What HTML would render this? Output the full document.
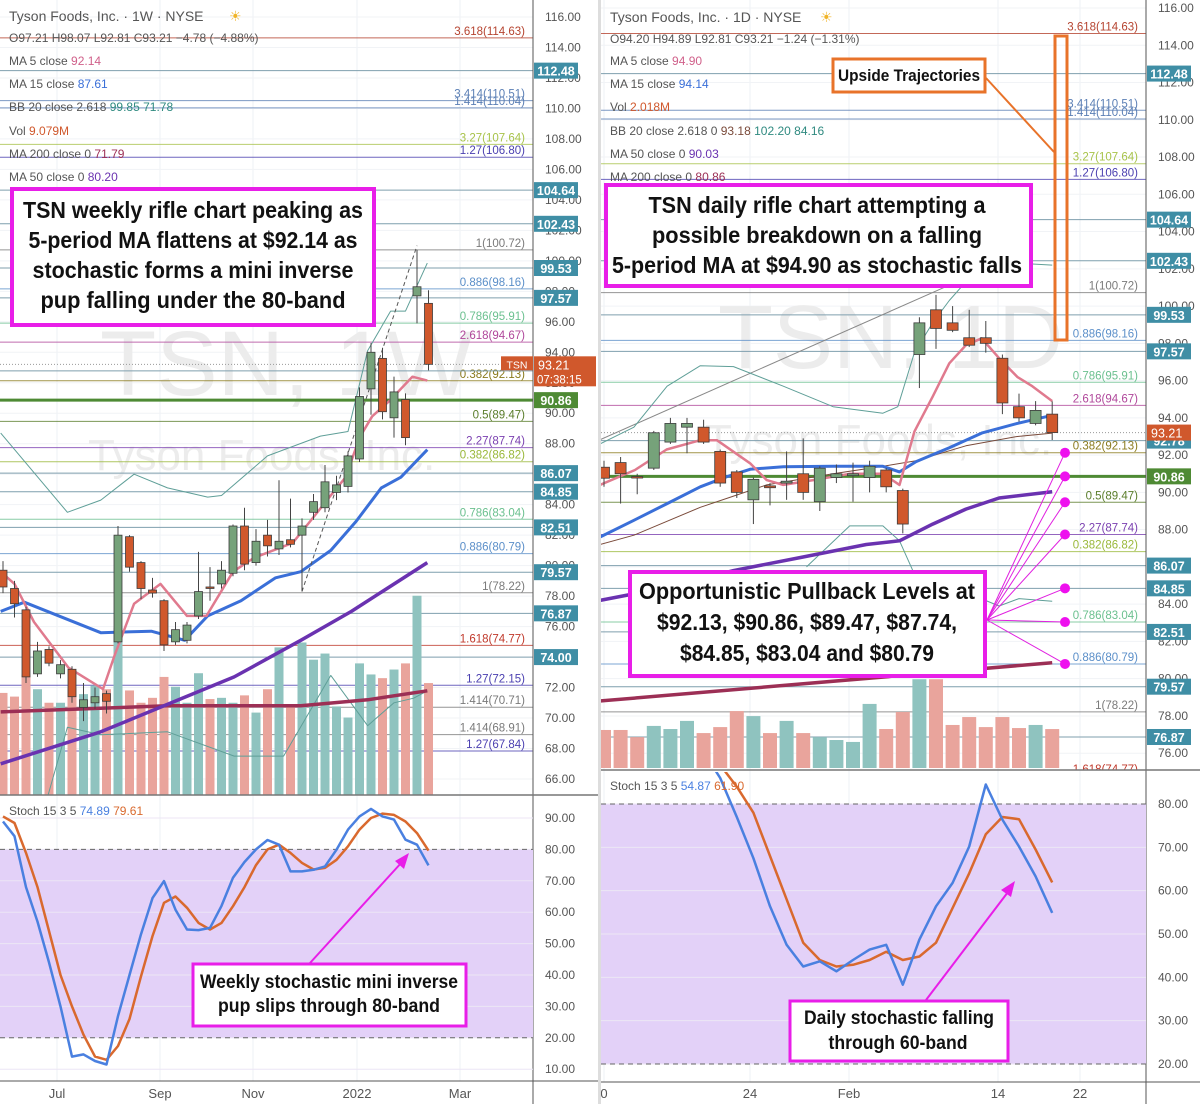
<!DOCTYPE html>
<html><head><meta charset="utf-8"><style>
html,body{margin:0;padding:0;background:#fff;}
svg{display:block;font-family:"Liberation Sans",sans-serif;}
</style></head><body>
<svg id="chart" xmlns="http://www.w3.org/2000/svg" width="1200" height="1104" viewBox="0 0 1200 1104">
<rect x="0" y="0" width="1200" height="1104" fill="#fff"/>
<defs>
<clipPath id="clipLP"><rect x="0" y="0" width="533" height="795"/></clipPath>
<clipPath id="clipLS"><rect x="0" y="797" width="533" height="283"/></clipPath>
<clipPath id="clipRP"><rect x="601" y="0" width="545" height="770"/></clipPath>
<clipPath id="clipRS"><rect x="601" y="772" width="545" height="309"/></clipPath>
</defs>
<g id="grid"></g>
<g id="wm">
<text x="100" y="395" font-size="92" fill="#ececec">TSN, 1W</text>
<text x="88" y="470" font-size="44" fill="#ececec">Tyson Foods, Inc.</text>
<text x="718" y="368" font-size="90" fill="#ececec">TSN, 1D</text>
<text x="705" y="455" font-size="44" fill="#ececec">Tyson Foods, Inc.</text>
</g>
<g id="layers"></g>
</svg>
<script>
// ===== LEFT (weekly) data =====
const lOpen=[79.7,78.5,77.1,72.9,74.5,72.9,73.2,70.7,71.0,71.6,75.0,81.9,80.2,78.4,77.7,75.0,75.1,76.7,78.6,78.8,79.5,82.6,80.2,82.0,81.1,81.7,82.0,83.5,83.8,84.8,85.2,87.0,91.6,93.6,89.7,90.9,97.7,97.21];
const lClose=[78.6,77.5,72.7,74.4,73.6,73.5,71.4,71.2,71.4,71.1,82.0,79.9,78.5,78.2,74.8,75.8,76.1,78.3,78.55,79.7,82.6,80.1,81.6,81.3,81.6,81.4,82.6,84.2,85.5,85.3,87.2,91.1,94.0,90.1,91.4,88.4,98.3,93.21];
const lHigh=[80.3,79.0,77.3,75.0,74.7,73.8,73.4,72.3,72.0,71.8,82.6,82.0,80.3,79.2,77.8,76.3,76.3,80.9,79.9,80.3,82.7,83.8,82.4,83.0,85.6,84.4,83.1,84.7,86.6,85.9,87.5,91.7,94.6,94.3,92.4,91.3,100.72,98.07];
const lLow=[78.2,76.6,72.3,72.7,73.4,72.6,71.0,69.8,70.6,70.3,74.9,79.6,77.8,77.9,74.4,74.8,74.9,76.5,77.7,78.5,79.3,79.7,80.0,80.6,80.7,81.2,78.3,83.0,83.5,84.3,84.8,86.8,89.9,89.6,88.4,87.9,95.9,92.81];
const lVol=[8.3,8.0,9.8,8.6,7.5,7.5,8.7,8.2,8.9,8.6,13.6,8.5,7.5,7.9,9.6,8.8,7.5,9.9,7.8,7.9,7.5,8.1,6.7,8.6,12.0,7.3,12.4,11.0,11.5,7.2,6.3,10.7,9.8,9.5,10.2,10.7,16.2,9.1];
const lMa5Idx=[-0.2,1,2.7,5.7,8.7,9.7,11.4,13.7,16,17.7,20,21.8,25.2,26.7,28.7,29.8,31,32.1,33.6,35.6,36.9];
const lMa5=[79.6,78.8,76.3,73.3,71.9,74.1,77.5,78.8,76.7,76.7,79.6,80.5,81.5,82.9,84.8,85.8,88.4,89.8,90.8,92.4,92.14];
const lMa15Idx=[-0.2,1.85,8.5,12.9,15.8,17.8,20.7,23.7,25.9,28.5,30.7,32.9,34.6,36.9];
const lMa15=[77.0,77.6,75.6,75.7,75.1,76.7,77.7,79.2,79.6,81.0,82.9,85.1,85.8,87.61];
const lMa50Idx=[-0.2,8.5,14,20.1,25.9,30.3,36.9];
const lMa50=[67.0,69.1,70.8,72.7,75.1,77.0,80.2];
const lMa200Idx=[-0.2,14.3,25.9,31.7,36.9];
const lMa200=[70.4,70.8,70.8,71.2,71.79];
const lBbUpIdx=[-0.2,5.6,8.5,11.4,14.3,17.8,19,23,27.6,30,31.7,33.7,35,36.9];
const lBbUp=[88.7,83.5,84.3,86.0,85.1,84.5,84.6,87.2,88.5,88.8,94.1,96.7,96.7,99.85];
const lBbLoIdx=[3,5.6,8.5,14.3,20.1,24.4,28.5,31.7,34,35.7,36.9];
const lBbLo=[62.5,69.4,68.9,69.1,67.5,67.5,72.8,69.5,71.0,71.3,71.78];
const lStochK=[88.9,84.2,68,57,44,30,14,14.7,12.6,11.5,26.9,40,53,64.5,69.9,60.8,54.5,54.3,55,62,71,76,80,83,81.5,73,73,73.5,74.6,79.9,86.3,90.5,92.9,90.5,89.5,83.1,81.5,74.89];
const lStochD=[90.5,88.4,78.9,68,54,40,30,21,14,13,17.4,26,39.6,52.4,63,65,61.4,56.6,54.5,56.6,61.9,68,75,80,81.5,78.9,75.7,73.6,74.1,76.7,81,86.3,90,91.4,91,88.9,85.2,79.61];
const lTicks=[116,114,112,110,108,106,104,102,100,98,96,94,92,90,88,86,84,82,80,78,76,74,72,70,68,66];
const lStochTicks=[90,80,70,60,50,40,30,20,10];

// ===== RIGHT (daily) data =====
const rOpen=[91.35,91.6,90.85,91.3,92.7,93.5,93.5,92.2,91.1,89.6,90.35,90.5,91.0,89.5,90.8,90.9,90.8,91.2,90.1,97.4,99.8,99.1,98.3,98.3,97.2,94.6,93.7,94.2];
const rClose=[90.76,91.0,90.8,93.2,93.7,93.7,92.7,90.5,90.0,90.7,90.25,90.6,90.0,91.3,91.0,91.0,91.4,90.3,88.3,99.1,98.8,98.7,97.9,98.0,94.8,94.0,94.4,93.21];
const rHigh=[91.7,91.9,91.0,93.3,94.0,94.0,93.9,92.3,91.2,90.8,90.5,92.2,92.9,91.4,91.5,91.6,91.7,91.3,90.2,99.4,100.6,100.0,99.8,99.2,97.4,95.3,94.9,94.89];
const rLow=[90.3,89.4,89.9,91.2,92.6,92.1,92.6,90.3,89.7,88.3,89.3,89.6,89.6,89.0,90.5,89.5,90.0,90.0,87.8,95.6,97.7,98.6,97.8,97.5,94.2,93.8,93.6,92.81];
const rVol=[1.97,1.97,1.6,2.18,2.02,2.44,1.81,2.12,2.95,2.69,1.81,2.44,1.81,1.6,1.45,1.35,3.32,2.02,2.9,4.6,4.6,2.23,2.64,2.12,2.64,2.07,2.23,2.018];
const rMa5Idx=[-0.24,1.87,3.77,5.8,6.8,8.8,9.8,10.8,12.6,13.8,14.8,16.8,17.8,18.7,19.8,20.8,21.8,22.75,23.8,24.9,25.8,27];
const rMa5=[90.4,91.2,92.3,92.8,92.8,91.56,90.66,90.4,90.66,90.84,91.0,91.0,90.4,93.26,95.14,96.93,97.9,98.27,97.2,96.2,95.7,94.9];
const rMa15Idx=[-0.24,1.8,3.8,5.8,7.4,8.8,10.8,13.8,16.8,17.8,18.8,20.8,22.8,24.9,27];
const rMa15=[87.6,88.5,89.4,90.3,90.84,91.24,91.38,91.4,91.4,91.1,91.65,92.4,93.2,93.7,94.14];
const rBbMidIdx=[-0.24,1.8,5.8,7.8,9.8,13.8,16.8,18.8,21.8,24.9,27];
const rBbMid=[87.2,87.7,89.2,89.8,90.4,91.0,91.4,91.7,92.5,93.0,93.18];
const rMa50Idx=[-0.24,3.8,7.8,11.8,15.8,17.8,19.8,21.8,23.8,27];
const rMa50=[84.2,84.9,85.8,86.5,87.2,87.4,88.3,89.1,89.7,90.03];
const rMa200Idx=[-0.24,27];
const rMa200=[78.8,80.86];
const rBbUpIdx=[-0.24,1.8,3.8,5.8,7.8,10.8,13.8,16.8,17.7,18.7,19.8,20.8,22,25,27];
const rBbUp=[92.6,93.5,95.7,96.8,96.75,95.7,94.6,94.25,94.6,97.5,99.1,100.3,101.5,102.3,102.2];
const rBbLoIdx=[12.2,14.8,16.8,17.8,18.6,23.8,25,27];
const rBbLo=[86.0,88.2,88.2,87.4,85.8,83.9,84.3,84.16];
const rStochK=[97,98,98,97,96,94,92,86,77,67.5,56.4,47.5,42.5,43.7,41.4,44,46.4,47.5,38.3,48.7,56.4,61.8,70.2,84.5,76.4,70.2,63.3,54.87];
const rStochD=[96,97,97.5,97,96,95,93,89,84,78,68,58,48,44,42.5,42.9,44,45.9,44,44.8,48,56,64,73,77,76.5,69.5,61.9];
const rTicks=[116,114,112,110,108,106,104,102,100,98,96,94,92,90,88,86,84,82,80,78,76];
const rStochTicks=[80,70,60,50,40,30,20];

// ===== shared levels =====
const fibLabels=["3.618(114.63)","3.414(110.51)","1.414(110.04)","3.27(107.64)","1.27(106.80)","1(100.72)","0.886(98.16)","0.786(95.91)","2.618(94.67)","0.382(92.13)","0.5(89.47)","2.27(87.74)","0.382(86.82)","0.786(83.04)","0.886(80.79)","1(78.22)","1.618(74.77)","1.27(72.15)","1.414(70.71)","1.414(68.91)","1.27(67.84)"];
const fibPrices=[114.63,110.51,110.04,107.64,106.80,100.72,98.16,95.91,94.67,92.13,89.47,87.74,86.82,83.04,80.79,78.22,74.77,72.15,70.71,68.91,67.84];
const fibColors=["#b5432f","#5b7fb5","#5b7fb5","#a8c34a","#4a3fb0","#7a7a7a","#5b8fc9","#6bc08f","#b0479b","#8a7a1c","#5a7d2a","#7a3fb0","#9ab83a","#6bc08f","#5b8fc9","#7a7a7a","#c0392b","#4a3fb0","#7a7a7a","#7a7a7a","#4a3fb0"];
const boxPrices=[112.48,104.64,102.43,99.53,97.57,92.78,86.07,84.85,82.51,79.57,76.87,74.00];
const pullbackPrices=[92.13,90.86,89.47,87.74,84.85,83.04,80.79];
const lastPrice=93.21, greenLevel=90.86;

// ===== axis functions =====
const xL=i=>3+i*11.5, yL=p=>17+(116-p)*15.24, yLV=v=>795-v*12.3, ySL=v=>818+(90-v)*3.14;
const xR=i=>604+i*16.6, yR=p=>8+(116-p)*18.63, yRV=v=>768-v*19.3, ySR=v=>804+(80-v)*4.333;

const NS="http://www.w3.org/2000/svg";
const root=document.getElementById('layers');
const grid=document.getElementById('grid');
function mk(parent,tag,attrs,txt){const e=document.createElementNS(NS,tag);for(const k in attrs)e.setAttribute(k,attrs[k]);if(txt!==undefined)e.textContent=txt;parent.appendChild(e);return e;}
function grp(clip){const g=document.createElementNS(NS,'g');if(clip)g.setAttribute('clip-path','url(#'+clip+')');root.appendChild(g);return g;}

// grid lines
[57,160,253,357,460].forEach(x=>{const l=mk(grid,'line',{x1:x,y1:0,x2:x,y2:1081,stroke:'#eef0f4','stroke-width':1});

});
[604,750,849,998,1080].forEach(x=>{const l=mk(grid,'line',{x1:x,y1:0,x2:x,y2:1082,stroke:'#eef0f4','stroke-width':1});

});
lTicks.forEach(t=>{const l=mk(grid,'line',{x1:0,y1:yL(t),x2:533,y2:yL(t),stroke:'#f1f3f6'});

});
rTicks.forEach(t=>{const l=mk(grid,'line',{x1:601,y1:yR(t),x2:1146,y2:yR(t),stroke:'#f1f3f6'});

});

function poly(g,idx,vals,xf,yf,color,w,name,dash){
 const pts=idx.map((i,k)=>xf(i).toFixed(1)+','+yf(vals[k]).toFixed(1)).join(' ');
 const p=mk(g,'polyline',{points:pts,fill:'none',stroke:color,'stroke-width':w,'stroke-linejoin':'round'});
 if(dash)p.setAttribute('stroke-dasharray',dash);
 
 
 return p;}

function panel(side){
 const L=side==='L';
 const xf=L?xL:xR, yf=L?yL:yR, yv=L?yLV:yRV, ys=L?ySL:ySR;
 const x0=L?0:601, x1=L?533:1146;
 const open=L?lOpen:rOpen, close=L?lClose:rClose, high=L?lHigh:rHigh, low=L?lLow:rLow, vol=L?lVol:rVol;
 const bw=L?8:11, vw=L?9:14;
 const g=grp(L?'clipLP':'clipRP');
 // fib level lines
 fibPrices.forEach((p,k)=>{const y=yf(p);
  const ln=mk(g,'line',{x1:x0,y1:y,x2:x1,y2:y,stroke:fibColors[k],'stroke-width':1,opacity:0.8});
  
  
  const t=mk(g,'text',{x:x1-8,y:y-3,'text-anchor':'end','font-size':11.5,fill:fibColors[k]},fibLabels[k]);
  
  });
 boxPrices.forEach(p=>{const ln=mk(g,'line',{x1:x0,y1:yf(p),x2:x1,y2:yf(p),stroke:'#7f9fae','stroke-width':1});
  
  });
 const gl=mk(g,'line',{x1:x0,y1:yf(greenLevel),x2:x1,y2:yf(greenLevel),stroke:'#4e8a34','stroke-width':3});
 
 
 const lp=mk(g,'line',{x1:x0,y1:yf(lastPrice),x2:x1,y2:yf(lastPrice),stroke:'#999','stroke-width':1,'stroke-dasharray':'1,2'});
 
 
 // volume
 vol.forEach((v,i)=>{const up=close[i]>=open[i];
  const r=mk(g,'rect',{x:xf(i)-vw/2,y:yv(v),width:vw,height:(L?795:768)-yv(v),fill:up?'#8fc3bf':'#e9a49c'});
  
  });
 // MAs and BB
 if(L){
  poly(g,lBbUpIdx,lBbUp,xf,yf,'#5f9f98',1,'bb-upper');
  poly(g,lBbLoIdx,lBbLo,xf,yf,'#5f9f98',1,'bb-lower');
  poly(g,lMa200Idx,lMa200,xf,yf,'#9c2f55',3.5,'ma200-line');
  poly(g,lMa50Idx,lMa50,xf,yf,'#6a32b0',3.5,'ma50-line');
  poly(g,lMa15Idx,lMa15,xf,yf,'#3a6fd8',3,'ma15-line');
  poly(g,lMa5Idx,lMa5,xf,yf,'#e07a8e',2.5,'ma5-line');
  poly(g,[26,36],[78.3,101.0],xf,yf,'#555',1,'trend-dashed-line','4,3');
 } else {
  poly(g,[-0.3,21],[92.8,101.2],xf,yf,'#888',1,'trend-line');
  poly(g,rBbUpIdx,rBbUp,xf,yf,'#5f9f98',1,'bb-upper');
  poly(g,rBbLoIdx,rBbLo,xf,yf,'#5f9f98',1,'bb-lower');
  poly(g,rBbMidIdx,rBbMid,xf,yf,'#7a4a3a',1,'bb-basis');
  poly(g,rMa200Idx,rMa200,xf,yf,'#9c2f55',3.5,'ma200-line');
  poly(g,rMa50Idx,rMa50,xf,yf,'#6a32b0',3.5,'ma50-line');
  poly(g,rMa15Idx,rMa15,xf,yf,'#3a6fd8',3,'ma15-line');
  poly(g,rMa5Idx,rMa5,xf,yf,'#e07a8e',2.5,'ma5-line');
 }
 // candles
 open.forEach((o,i)=>{const c=close[i],up=c>o,x=xf(i);
  const w=mk(g,'line',{x1:x,y1:yf(high[i]),x2:x,y2:yf(low[i]),stroke:'#444','stroke-width':1});
  
  
  const top=yf(Math.max(o,c)),bot=yf(Math.min(o,c));
  const r=mk(g,'rect',{x:x-bw/2,y:top,width:bw,height:Math.max(1.5,bot-top),fill:up?'#76a27a':'#d0582c',stroke:'#3c3c3c','stroke-width':0.8});
  
  });
 // axis
 const ax=mk(root,'line',{x1:x1,y1:0,x2:x1,y2:1104,stroke:'#555','stroke-width':1});
 
 
 (L?lTicks:rTicks).forEach(t=>{const tx=mk(root,'text',{x:x1+12,y:yf(t)+4,'font-size':12,fill:'#555'},t.toFixed(2));
  
  });
 boxPrices.forEach(p=>{if(!L&&p===74)return;const y=yf(p);
  const r=mk(root,'rect',{x:x1+1,y:y-8,width:44,height:16,fill:'#3f8ea5'});
  
  
  const t=mk(root,'text',{x:x1+23,y:y+5,'text-anchor':'middle','font-size':12.5,'font-weight':'bold',fill:'#fff'},p.toFixed(2));
  
  });
 const gy=yf(greenLevel);
 const gr=mk(root,'rect',{x:x1+1,y:gy-8,width:44,height:16,fill:'#4e8a34'});
 
 
 const gt=mk(root,'text',{x:x1+23,y:gy+5,'text-anchor':'middle','font-size':12.5,'font-weight':'bold',fill:'#fff'},greenLevel.toFixed(2));
 
 
 const py=yf(lastPrice);
 const pr=mk(root,'rect',{x:x1+1,y:py-8,width:L?62:44,height:L?30:16,fill:'#d0582c'});
 
 
 const pt=mk(root,'text',{x:x1+5,y:py+5,'font-size':12.5,fill:'#fff'},lastPrice.toFixed(2));
 
 
 if(L){const ct=mk(root,'text',{x:x1+4,y:py+19,'font-size':11.5,fill:'#fff'},'07:38:15');
  
  
  const sr=mk(root,'rect',{x:x1-32,y:py-8,width:32,height:14,fill:'#d0582c'});
  
  
  const st=mk(root,'text',{x:x1-16,y:py+4,'text-anchor':'middle','font-size':10.5,fill:'#fff'},'TSN');
  
  }
 // stochastic panel
 const sg=grp(L?'clipLS':'clipRS');
 const sepY=L?795:770;
 const sep=mk(root,'line',{x1:x0,y1:sepY,x2:L?598:1200,y2:sepY,stroke:'#777','stroke-width':1.5});
 
 
 const band=mk(sg,'rect',{x:x0,y:ys(80),width:x1-x0,height:ys(20)-ys(80),fill:'#e3d1f8'});
 
 
 (L?lStochTicks:rStochTicks).forEach(t=>{const l=mk(sg,'line',{x1:x0,y1:ys(t),x2:x1,y2:ys(t),stroke:'#ece6f5'});
  
  
  const tx=mk(root,'text',{x:x1+12,y:ys(t)+4,'font-size':12,fill:'#555'},t.toFixed(2));
  
  });
 [80,20].forEach(t=>{const l=mk(sg,'line',{x1:x0,y1:ys(t),x2:x1,y2:ys(t),stroke:'#666','stroke-dasharray':'5,4'});
  
  });
 const K=L?lStochK:rStochK, D=L?lStochD:rStochD, ix=K.map((_,i)=>i);
 poly(sg,ix,D,xf,ys,'#d9692e',2.5,'stoch-d-line');
 poly(sg,ix,K,xf,ys,'#4a80e0',2.5,'stoch-k-line');
 const bax=mk(root,'line',{x1:x0,y1:L?1081:1082,x2:L?598:1200,y2:L?1081:1082,stroke:'#555'});
 
 
}
panel('L'); panel('R');

// pullback dots
const pbg=grp(null);
pullbackPrices.forEach(p=>{
 const l=mk(pbg,'line',{x1:987,y1:620,x2:1065,y2:yR(p),stroke:'#e020e0','stroke-width':1});
 
 
 const c=mk(pbg,'circle',{cx:1065,cy:yR(p),r:5,fill:'#ee10ee'});
 
 });
</script>
<svg style="position:absolute;left:0;top:0" width="1200" height="1104" xmlns="http://www.w3.org/2000/svg">
<g font-family="Liberation Sans, sans-serif" fill="#222">
<!-- legends -->
<g font-size="12">
<text x="9" y="21" font-size="14" fill="#555">Tyson Foods, Inc. · 1W · NYSE</text>
<text x="229" y="21" font-size="14" fill="#f0b429">☀</text>
<text x="9" y="42" fill="#555">O97.21 H98.07 L92.81 C93.21 −4.78 (−4.88%)</text>
<text x="9" y="65" fill="#555">MA 5 close <tspan fill="#d0608a">92.14</tspan></text>
<text x="9" y="88" fill="#555">MA 15 close <tspan fill="#3a6fd8">87.61</tspan></text>
<text x="9" y="111" fill="#555">BB 20 close 2.618 <tspan fill="#2f8a80">99.85 71.78</tspan></text>
<text x="9" y="135" fill="#555">Vol <tspan fill="#d0582c">9.079M</tspan></text>
<text x="9" y="158" fill="#555">MA 200 close 0 <tspan fill="#9c2f55">71.79</tspan></text>
<text x="9" y="181" fill="#555">MA 50 close 0 <tspan fill="#6a32b0">80.20</tspan></text>
<text x="9" y="815" fill="#555">Stoch 15 3 5 <tspan fill="#4a80e0">74.89</tspan> <tspan fill="#d9692e">79.61</tspan></text>
</g>
<g font-size="12">
<text x="610" y="22" font-size="14" fill="#555">Tyson Foods, Inc. · 1D · NYSE</text>
<text x="820" y="22" font-size="14" fill="#f0b429">☀</text>
<text x="610" y="43" fill="#555">O94.20 H94.89 L92.81 C93.21 −1.24 (−1.31%)</text>
<text x="610" y="65" fill="#555">MA 5 close <tspan fill="#d0608a">94.90</tspan></text>
<text x="610" y="88" fill="#555">MA 15 close <tspan fill="#3a6fd8">94.14</tspan></text>
<text x="610" y="111" fill="#555">Vol <tspan fill="#d0582c">2.018M</tspan></text>
<text x="610" y="135" fill="#555">BB 20 close 2.618 0 <tspan fill="#7a4a3a">93.18</tspan> <tspan fill="#2f8a80">102.20 84.16</tspan></text>
<text x="610" y="158" fill="#555">MA 50 close 0 <tspan fill="#6a32b0">90.03</tspan></text>
<text x="610" y="181" fill="#555">MA 200 close 0 <tspan fill="#9c2f55">80.86</tspan></text>
<text x="610" y="790" fill="#555">Stoch 15 3 5 <tspan fill="#4a80e0">54.87</tspan> <tspan fill="#d9692e">61.90</tspan></text>
</g>
<g font-size="13" fill="#555">
<text x="57" y="1098" text-anchor="middle">Jul</text><text x="160" y="1098" text-anchor="middle">Sep</text>
<text x="253" y="1098" text-anchor="middle">Nov</text><text x="357" y="1098" text-anchor="middle">2022</text>
<text x="460" y="1098" text-anchor="middle">Mar</text>
<text x="604" y="1098" text-anchor="middle">0</text><text x="750" y="1098" text-anchor="middle">24</text>
<text x="849" y="1098" text-anchor="middle">Feb</text><text x="998" y="1098" text-anchor="middle">14</text>
<text x="1080" y="1098" text-anchor="middle">22</text>
</g>
<rect x="598" y="0" width="3" height="1104" fill="#ddd"/>
<!-- annotation boxes -->
<g>
<rect x="12" y="189" width="362" height="136" fill="#fff" stroke="#e81ee8" stroke-width="4"/>
<g font-weight="bold" font-size="23" text-anchor="middle" fill="#111">
<text x="193" y="218" textLength="340" lengthAdjust="spacingAndGlyphs">TSN weekly rifle chart peaking as</text>
<text x="193" y="248" textLength="329" lengthAdjust="spacingAndGlyphs">5-period MA flattens at $92.14 as</text>
<text x="193" y="278" textLength="321" lengthAdjust="spacingAndGlyphs">stochastic forms a mini inverse</text>
<text x="193" y="308" textLength="305" lengthAdjust="spacingAndGlyphs">pup falling under the 80-band</text>
</g></g>
<g>
<rect x="606" y="185" width="425" height="101" fill="#fff" stroke="#e81ee8" stroke-width="4"/>
<g font-weight="bold" font-size="23" text-anchor="middle" fill="#111">
<text x="817" y="213" textLength="337" lengthAdjust="spacingAndGlyphs">TSN daily rifle chart attempting a</text>
<text x="817" y="243" textLength="330" lengthAdjust="spacingAndGlyphs">possible breakdown on a falling</text>
<text x="817" y="273" textLength="410" lengthAdjust="spacingAndGlyphs">5-period MA at $94.90 as stochastic falls</text>
</g></g>
<g>
<rect x="630" y="572" width="355" height="104" fill="#fff" stroke="#e81ee8" stroke-width="4"/>
<g font-weight="bold" font-size="23" text-anchor="middle" fill="#111">
<text x="807" y="599" textLength="336" lengthAdjust="spacingAndGlyphs">Opportunistic Pullback Levels at</text>
<text x="807" y="630" textLength="300" lengthAdjust="spacingAndGlyphs">$92.13, $90.86, $89.47, $87.74,</text>
<text x="807" y="661" textLength="254" lengthAdjust="spacingAndGlyphs">$84.85, $83.04 and $80.79</text>
</g></g>
<g>
<rect x="1055" y="36" width="12" height="304" fill="none" stroke="#e8732a" stroke-width="3"/>
<line x1="986" y1="78" x2="1054" y2="152" stroke="#e8732a" stroke-width="2"/>
<rect x="833" y="59" width="152" height="33" fill="#fff" stroke="#e8732a" stroke-width="3"/>
<text x="909" y="81" font-weight="bold" font-size="17" text-anchor="middle" textLength="142" lengthAdjust="spacingAndGlyphs" fill="#111">Upside Trajectories</text>
</g>
<g>
<line x1="310" y1="963" x2="402" y2="862" stroke="#e81ee8" stroke-width="2"/>
<polygon points="409,853 395,861 404,869" fill="#e81ee8"/>
<rect x="193" y="964" width="273" height="62" fill="#fff" stroke="#e81ee8" stroke-width="3"/>
<g font-weight="bold" font-size="19" text-anchor="middle" fill="#111">
<text x="329" y="988" textLength="258" lengthAdjust="spacingAndGlyphs">Weekly stochastic mini inverse</text>
<text x="329" y="1012" textLength="222" lengthAdjust="spacingAndGlyphs">pup slips through 80-band</text>
</g></g>
<g>
<line x1="926" y1="1000" x2="1008" y2="892" stroke="#e81ee8" stroke-width="2"/>
<polygon points="1015,881 1001,890 1011,897" fill="#e81ee8"/>
<rect x="790" y="1001" width="218" height="60" fill="#fff" stroke="#e81ee8" stroke-width="3"/>
<g font-weight="bold" font-size="19" text-anchor="middle" fill="#111">
<text x="899" y="1024" textLength="190" lengthAdjust="spacingAndGlyphs">Daily stochastic falling</text>
<text x="898" y="1049" textLength="139" lengthAdjust="spacingAndGlyphs">through 60-band</text>
</g></g>
</g>
</svg>
</body></html>
